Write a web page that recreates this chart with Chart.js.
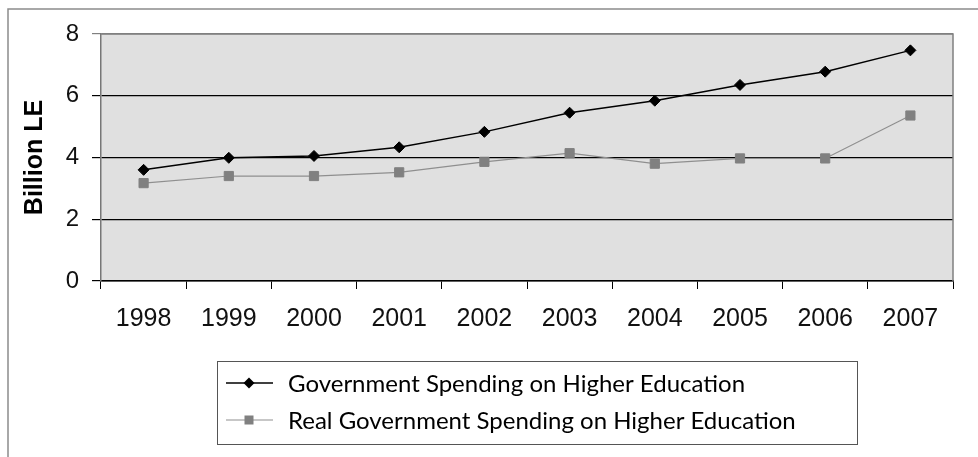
<!DOCTYPE html>
<html>
<head>
<meta charset="utf-8">
<script src="https://cdn.jsdelivr.net/npm/chart.js@4/dist/chart.umd.min.js"></script>
<style>
html,body{margin:0;padding:0;background:#fff;}
canvas{display:block;}
</style>
</head>
<body>
<canvas id="c" width="978" height="457"></canvas>
<script>
const years = ['1998','1999','2000','2001','2002','2003','2004','2005','2006','2007'];
const govSpending = [3.60, 3.99, 4.05, 4.33, 4.83, 5.45, 5.84, 6.35, 6.78, 7.47];
const realSpending = [3.17, 3.40, 3.40, 3.52, 3.86, 4.14, 3.80, 3.97, 3.97, 5.36];
const seriesNames = ['Government Spending on Higher Education', 'Real Government Spending on Higher Education'];
const yTitle = 'Billion LE';

const frame = {
  id: 'frame',
  beforeDraw(chart) {
    const ctx = chart.ctx, a = chart.chartArea;
    ctx.save();
    ctx.fillStyle = '#fff';
    ctx.fillRect(0, 0, chart.width, chart.height);
    ctx.strokeStyle = '#8c8c8c';
    ctx.lineWidth = 1.5;
    ctx.beginPath();
    ctx.moveTo(8, chart.height);
    ctx.lineTo(8, 9);
    ctx.lineTo(chart.width, 9);
    ctx.stroke();
    ctx.fillStyle = '#e0e0e0';
    ctx.fillRect(a.left, a.top, a.right - a.left, a.bottom - a.top);
    ctx.restore();
  },
  afterDatasetsDraw(chart) {
    const ctx = chart.ctx, a = chart.chartArea;
    ctx.save();
    ctx.strokeStyle = '#808080';
    ctx.lineWidth = 1.5;
    ctx.beginPath();
    ctx.moveTo(a.left, a.top);
    ctx.lineTo(a.right, a.top);
    ctx.lineTo(a.right, a.bottom);
    ctx.stroke();
    ctx.restore();
  },
  afterDraw(chart) {
    const ctx = chart.ctx;
    ctx.save();
    ctx.strokeStyle = '#555';
    ctx.lineWidth = 1;
    ctx.strokeRect(217.5, 361.5, 640, 83);
    const rows = [383, 420];
    chart.data.datasets.forEach((ds, i) => {
      const y = rows[i];
      ctx.strokeStyle = ds.borderColor;
      ctx.lineWidth = ds.borderWidth;
      ctx.beginPath();
      ctx.moveTo(226, y);
      ctx.lineTo(273, y);
      ctx.stroke();
      ctx.fillStyle = ds.pointBackgroundColor;
      if (i === 0) {
        ctx.beginPath();
        ctx.moveTo(249, y - 5.5);
        ctx.lineTo(254.5, y);
        ctx.lineTo(249, y + 5.5);
        ctx.lineTo(243.5, y);
        ctx.closePath();
        ctx.fill();
      } else {
        ctx.fillRect(244.5, y - 4.5, 9, 9);
      }
      ctx.fillStyle = '#000';
      ctx.font = '24px Lato';
      ctx.textBaseline = 'middle';
      ctx.textAlign = 'left';
      ctx.fillText(ds.label, 288, y + 1);
    });
    ctx.restore();
  }
};

new Chart(document.getElementById('c'), {
  type: 'line',
  data: {
    labels: years,
    datasets: [
      {
        label: seriesNames[0],
        data: govSpending,
        borderColor: '#000',
        borderWidth: 1.5,
        pointStyle: 'rectRot',
        pointRadius: 5.5,
        pointBackgroundColor: '#000',
        pointBorderColor: '#000',
        pointBorderWidth: 1,
        tension: 0
      },
      {
        label: seriesNames[1],
        data: realSpending,
        borderColor: '#8f8f8f',
        borderWidth: 1.2,
        pointStyle: 'rect',
        pointRadius: 6.5,
        pointBackgroundColor: '#808080',
        pointBorderColor: '#808080',
        pointBorderWidth: 1,
        tension: 0
      }
    ]
  },
  options: {
    responsive: false,
    animation: false,
    events: [],
    layout: { padding: { top: 34, right: 25, left: 0, bottom: 0 } },
    plugins: { legend: { display: false }, tooltip: { enabled: false } },
    scales: {
      x: {
        offset: true,
        grid: { offset: true, drawOnChartArea: false, drawTicks: true, tickLength: 8, color: '#000' },
        border: { color: '#000', width: 1.5 },
        ticks: { color: '#111', font: { family: 'Liberation Sans, Arial', size: 25 }, padding: 15, maxRotation: 0 },
        afterFit(s) { s.height = 176; }
      },
      y: {
        min: 0, max: 8,
        ticks: { stepSize: 2, color: '#111', font: { family: 'Liberation Sans, Arial', size: 24 }, padding: 13 },
        grid: {
          tickLength: 9,
          lineWidth: 1.2,
          color: (c) => (c.tick && c.tick.value === 8) ? '#808080' : '#000'
        },
        border: { color: '#777', width: 1.5 },
        title: {
          display: true,
          text: yTitle,
          color: '#000',
          font: { family: 'Liberation Sans, Arial', size: 25, weight: 'bold' },
          padding: { top: 20, bottom: 0 }
        },
        afterFit(s) { s.width = 101; }
      }
    }
  },
  plugins: [frame]
});
</script>
</body>
</html>
